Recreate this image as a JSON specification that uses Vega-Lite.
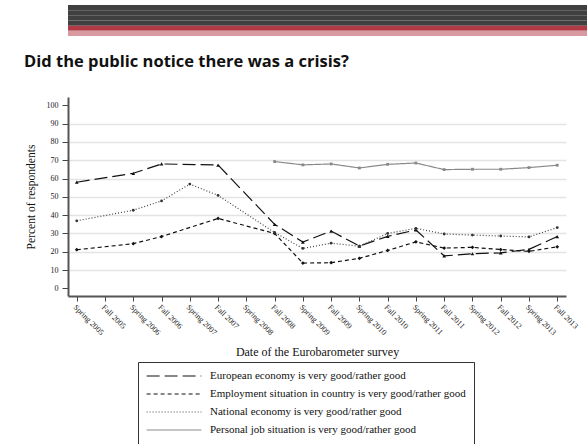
{
  "$schema": "https://vega.github.io/schema/vega-lite/v6.json",
  "padding": {"left": 24, "top": 5, "right": 0, "bottom": 0},
  "background": "white",
  "spacing": 16,
  "columns": 1,
  "config": {"view": {"stroke": null}, "font": "Liberation Serif"},
  "resolve": {"scale": {"x": "independent", "y": "independent", "color": "independent", "fill": "independent"}},
  "datasets": {
    "header": [{"band": "b1"}, {"band": "b2"}, {"band": "b3"}, {"band": "b4"}, {"band": "b5"}, {"band": "b6"}],
    "survey": [
      {"series": "European economy is very good/rather good", "period": "Spring 2005", "pct": 58},
      {"series": "European economy is very good/rather good", "period": "Spring 2006", "pct": 62.9},
      {"series": "European economy is very good/rather good", "period": "Fall 2006", "pct": 68},
      {"series": "European economy is very good/rather good", "period": "Fall 2007", "pct": 67.4},
      {"series": "European economy is very good/rather good", "period": "Fall 2008", "pct": 35},
      {"series": "European economy is very good/rather good", "period": "Spring 2009", "pct": 25.3},
      {"series": "European economy is very good/rather good", "period": "Fall 2009", "pct": 31.3},
      {"series": "European economy is very good/rather good", "period": "Spring 2010", "pct": 23.1},
      {"series": "European economy is very good/rather good", "period": "Fall 2010", "pct": 28.4},
      {"series": "European economy is very good/rather good", "period": "Spring 2011", "pct": 31.9},
      {"series": "European economy is very good/rather good", "period": "Fall 2011", "pct": 17.7},
      {"series": "European economy is very good/rather good", "period": "Spring 2012", "pct": 18.9},
      {"series": "European economy is very good/rather good", "period": "Fall 2012", "pct": 19.4},
      {"series": "European economy is very good/rather good", "period": "Spring 2013", "pct": 21.3},
      {"series": "European economy is very good/rather good", "period": "Fall 2013", "pct": 28.3},
      {"series": "Employment situation in country is very good/rather good", "period": "Spring 2005", "pct": 21.1},
      {"series": "Employment situation in country is very good/rather good", "period": "Spring 2006", "pct": 24.4},
      {"series": "Employment situation in country is very good/rather good", "period": "Fall 2006", "pct": 28.3},
      {"series": "Employment situation in country is very good/rather good", "period": "Fall 2007", "pct": 38.2},
      {"series": "Employment situation in country is very good/rather good", "period": "Fall 2008", "pct": 30},
      {"series": "Employment situation in country is very good/rather good", "period": "Spring 2009", "pct": 13.8},
      {"series": "Employment situation in country is very good/rather good", "period": "Fall 2009", "pct": 14},
      {"series": "Employment situation in country is very good/rather good", "period": "Spring 2010", "pct": 16.4},
      {"series": "Employment situation in country is very good/rather good", "period": "Fall 2010", "pct": 20.7},
      {"series": "Employment situation in country is very good/rather good", "period": "Spring 2011", "pct": 25.4},
      {"series": "Employment situation in country is very good/rather good", "period": "Fall 2011", "pct": 22},
      {"series": "Employment situation in country is very good/rather good", "period": "Spring 2012", "pct": 22.4},
      {"series": "Employment situation in country is very good/rather good", "period": "Fall 2012", "pct": 21.2},
      {"series": "Employment situation in country is very good/rather good", "period": "Spring 2013", "pct": 20.2},
      {"series": "Employment situation in country is very good/rather good", "period": "Fall 2013", "pct": 22.7},
      {"series": "National economy is very good/rather good", "period": "Spring 2005", "pct": 36.9},
      {"series": "National economy is very good/rather good", "period": "Spring 2006", "pct": 42.7},
      {"series": "National economy is very good/rather good", "period": "Fall 2006", "pct": 47.8},
      {"series": "National economy is very good/rather good", "period": "Spring 2007", "pct": 57},
      {"series": "National economy is very good/rather good", "period": "Fall 2007", "pct": 50.8},
      {"series": "National economy is very good/rather good", "period": "Fall 2008", "pct": 30.5},
      {"series": "National economy is very good/rather good", "period": "Spring 2009", "pct": 21.8},
      {"series": "National economy is very good/rather good", "period": "Fall 2009", "pct": 24.7},
      {"series": "National economy is very good/rather good", "period": "Spring 2010", "pct": 23},
      {"series": "National economy is very good/rather good", "period": "Fall 2010", "pct": 30},
      {"series": "National economy is very good/rather good", "period": "Spring 2011", "pct": 32.8},
      {"series": "National economy is very good/rather good", "period": "Fall 2011", "pct": 29.7},
      {"series": "National economy is very good/rather good", "period": "Spring 2012", "pct": 29.1},
      {"series": "National economy is very good/rather good", "period": "Fall 2012", "pct": 28.6},
      {"series": "National economy is very good/rather good", "period": "Spring 2013", "pct": 28.1},
      {"series": "National economy is very good/rather good", "period": "Fall 2013", "pct": 33.2},
      {"series": "Personal job situation is very good/rather good", "period": "Fall 2008", "pct": 69.3},
      {"series": "Personal job situation is very good/rather good", "period": "Spring 2009", "pct": 67.5},
      {"series": "Personal job situation is very good/rather good", "period": "Fall 2009", "pct": 68},
      {"series": "Personal job situation is very good/rather good", "period": "Spring 2010", "pct": 65.8},
      {"series": "Personal job situation is very good/rather good", "period": "Fall 2010", "pct": 67.8},
      {"series": "Personal job situation is very good/rather good", "period": "Spring 2011", "pct": 68.5},
      {"series": "Personal job situation is very good/rather good", "period": "Fall 2011", "pct": 64.9},
      {"series": "Personal job situation is very good/rather good", "period": "Spring 2012", "pct": 65.1},
      {"series": "Personal job situation is very good/rather good", "period": "Fall 2012", "pct": 65.1},
      {"series": "Personal job situation is very good/rather good", "period": "Spring 2013", "pct": 66},
      {"series": "Personal job situation is very good/rather good", "period": "Fall 2013", "pct": 67.3}
    ]
  },
  "concat": [
    {
      "width": 519,
      "height": 31,
      "data": {"name": "header"},
      "mark": {"type": "rect"},
      "encoding": {
        "y": {"field": "band", "type": "nominal", "axis": null, "sort": null, "scale": {"paddingInner": 0, "paddingOuter": 0}},
        "fill": {"field": "band", "type": "nominal", "legend": null, "scale": {"domain": ["b1", "b2", "b3", "b4", "b5", "b6"], "range": ["#404040", "#404040", "#404040", "#404040", "#b13a47", "#d89aa1"]}}
      }
    },
    {
      "width": 498,
      "height": 199,
      "title": {"text": "Did the public notice there was a crisis?", "anchor": "start", "frame": "bounds", "font": "Open Sans", "fontSize": 16.5, "fontWeight": "bold", "color": "#111111", "offset": 27, "dx": -1},
      "data": {"name": "survey"},
      "encoding": {
        "x": {
          "field": "period", "type": "ordinal", "sort": null,
          "scale": {"type": "point", "padding": 0.31, "domain": ["Spring 2005", "Fall 2005", "Spring 2006", "Fall 2006", "Spring 2007", "Fall 2007", "Spring 2008", "Fall 2008", "Spring 2009", "Fall 2009", "Spring 2010", "Fall 2010", "Spring 2011", "Fall 2011", "Spring 2012", "Fall 2012", "Spring 2013", "Fall 2013"]},
          "axis": {"title": "Date of the Eurobarometer survey", "labelAngle": 45, "labelFont": "Liberation Serif", "labelFontSize": 8, "labelColor": "#222222", "tickSize": 5, "tickColor": "#444444", "domainColor": "#555555", "domainWidth": 2, "labelPadding": 2, "titleFont": "Liberation Serif", "titleFontSize": 12, "titleFontWeight": "normal", "titleColor": "#111111", "titlePadding": 10, "grid": false}
        },
        "y": {
          "field": "pct", "type": "quantitative",
          "scale": {"domain": [-4.2, 104.6], "nice": false, "zero": false},
          "axis": {"title": "Percent of respondents", "values": [0, 10, 20, 30, 40, 50, 60, 70, 80, 90, 100], "grid": true, "gridColor": "#e4e4e4", "gridWidth": 1.5, "gridOpacity": {"condition": {"test": "datum.value === 0 || datum.value === 100", "value": 0}, "value": 1}, "labelFont": "Liberation Serif", "labelFontSize": 8, "labelColor": "#222222", "tickSize": 6, "tickColor": "#444444", "domainColor": "#555555", "domainWidth": 2, "labelPadding": 4, "titleFont": "Liberation Serif", "titleFontSize": 11.5, "titleFontWeight": "normal", "titleColor": "#111111", "titlePadding": 10}
        }
      },
      "layer": [
        {
          "mark": {"type": "line", "strokeWidth": 1.2},
          "encoding": {
            "color": {
              "field": "series", "type": "nominal", "legend": null,
              "scale": {"domain": ["European economy is very good/rather good", "Employment situation in country is very good/rather good", "National economy is very good/rather good", "Personal job situation is very good/rather good"], "range": ["#111111", "#111111", "#444444", "#8a8a8a"]}
            },
            "strokeDash": {
              "field": "series", "type": "nominal",
              "scale": {"domain": ["European economy is very good/rather good", "Employment situation in country is very good/rather good", "National economy is very good/rather good", "Personal job situation is very good/rather good"], "range": [[13, 5], [4, 3], [1, 2], [1, 0]]},
              "legend": {
                "orient": "none", "legendX": 70, "legendY": 357, "title": null, "strokeColor": "#333333", "padding": 8,
                "symbolType": "stroke", "symbolSize": 3000, "symbolStrokeWidth": 1.2, "symbolStrokeColor": "#111111",
                "labelFont": "Liberation Serif", "labelFontSize": 11, "labelColor": "#111111", "labelOffset": 8, "rowPadding": 6, "clipHeight": 12, "labelLimit": 500,
                "encode": {"symbols": {"update": {"stroke": {"signal": "indexof(datum.label, 'Personal') === 0 ? '#8a8a8a' : (indexof(datum.label, 'National') === 0 ? '#444444' : '#111111')"}}}}
              }
            }
          }
        },
        {
          "transform": [{"filter": "datum.series === 'European economy is very good/rather good'"}],
          "mark": {"type": "point", "shape": "triangle-up", "filled": true, "size": 14, "color": "#111111", "opacity": 1}
        },
        {
          "transform": [{"filter": "datum.series === 'Employment situation in country is very good/rather good'"}],
          "mark": {"type": "point", "shape": "diamond", "filled": true, "size": 14, "color": "#111111", "opacity": 1}
        },
        {
          "transform": [{"filter": "datum.series === 'National economy is very good/rather good'"}],
          "mark": {"type": "point", "shape": "circle", "filled": true, "size": 8, "color": "#333333", "opacity": 1}
        },
        {
          "transform": [{"filter": "datum.series === 'Personal job situation is very good/rather good'"}],
          "mark": {"type": "point", "shape": "square", "filled": true, "size": 8, "color": "#8a8a8a", "opacity": 1}
        }
      ]
    }
  ]
}
